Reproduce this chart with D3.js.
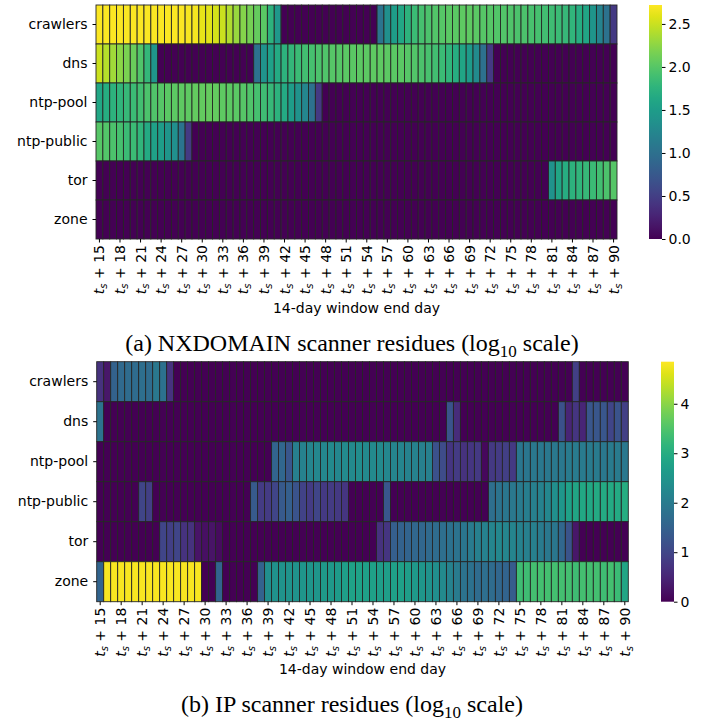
<!DOCTYPE html>
<html><head><meta charset="utf-8">
<script src="https://cdn.jsdelivr.net/npm/d3@7"></script>
<style>body{margin:0;background:#fff}svg{display:block}</style>
</head><body>
<svg id="c" width="704" height="722"></svg>
<script>
const categories = ["crawlers","dns","ntp-pool","ntp-public","tor","zone"];
const days = d3.range(15, 91);
const tickDays = d3.range(15, 91, 3);
const z = n => Array(n).fill(0);

// (a) NXDOMAIN residues, log10
const nxCrawlers = [2.7,2.7,2.7,2.7,2.7,2.7,2.7,2.7,2.7,2.7,2.7,2.7,2.7,2.68,2.68,2.62,2.6,2.55,2.5,2.4,2.3,2.22,2.15,2.08,2.02,1.75,1.45,
  ...z(14),
  1.05,1.35,1.5,1.62,1.75,1.85,1.92,1.95,1.98,2.0,2.02,2.02,2.05,2.05,2.02,2.0,2.0,1.98,1.98,1.97,1.95,1.95,1.93,1.92,1.9,1.88,1.85,1.82,1.78,1.7,1.6,1.42,1.22,1.02,0.45];
const nxDns = [2.5,2.42,2.33,2.25,2.17,2.1,1.97,1.8,1.42, ...z(14),
  1.0,1.4,1.55,1.65,1.75,1.8,1.85,1.9,1.92,1.95,1.97,2.0,2.0,2.02,2.02,2.03,2.03,2.05,2.05,2.03,2.02,2.02,2.0,1.98,1.95,1.93,1.9,1.85,1.78,1.7,1.6,1.48,1.3,1.0,0.45,
  ...z(18)];
const nxNtpPool = [1.62,1.68,1.75,1.78,1.82,1.85,1.9,1.95,1.97,2.0,2.02,2.03,2.05,2.05,2.07,2.07,2.08,2.07,2.05,2.03,2.02,2.0,1.97,1.92,1.88,1.82,1.75,1.65,1.5,1.4,1.25,1.0,0.45, ...z(43)];
const nxNtpPublic = [2.0,1.98,1.95,1.92,1.85,1.85,1.78,1.65,1.55,1.5,1.42,1.35,1.05,0.45, ...z(62)];
const nxTor = [...z(66), 1.4,1.6,1.7,1.75,1.78,1.82,1.85,1.9,1.95,2.0];
const nxZone = z(76);
const nxMax = 2.72;
const nxTicks = [0.0,0.5,1.0,1.5,2.0,2.5];

// (b) IP residues, log10
const ipCrawlers = [0.7,0.3,1.5,1.65,1.7,1.7,1.75,1.7,1.95,1.8,0.7, ...z(57), 0.9, ...z(7)];
const ipDns = [1.85, ...z(49), 1.25,0.6, ...z(14), 1.2,0.5,0.75,0.5,1.3,1.3,1.3,1.0,1.25,0.9];
const ipNtpPool = [...z(25), 1.55,1.6,1.3,2.1,2.15,2.2,2.25,2.25,2.3,2.25,2.3,2.3,2.35,2.3,2.3,2.3,2.25,2.2,2.2,2.15,2.15,2.1,2.1,
  1.2,1.1,0.75,0.85,0.7,0.75,0.8,0.1,0.8,0.85,0.9,0.8,
  1.9,1.9,1.95,1.95,1.95,1.95,1.95,2.0,2.0,2.0,2.0,2.0,1.95,2.0,2.0,1.95];
const ipNtpPublic = [...z(6), 1.0,0.9, ...z(14), 1.35,0.85,0.85,1.0,1.35,1.45,1.25,0.95,0.85,1.0,0.8,0.85,0.8,0.75, ...z(5), 1.3, ...z(14),
  1.75,1.85,1.9,1.95,2.0,2.05,2.1,2.15,2.25,2.4,2.55,2.75,2.85,2.9,2.9,2.95,2.95,2.95,2.95,3.0];
const ipTor = [...z(9), 1.0,0.9,1.0,0.7,0.7,0.25,0.2,0.25,0.15, ...z(22),
  0.7,0.75,1.45,1.5,1.55,1.6,1.6,1.65,1.7,1.75,1.8,1.85,1.9,2.0,2.1,2.15,2.2,2.25,2.2,2.2,2.15,2.1,2.1,2.0,1.95,1.9,1.6,1.25,0.3, ...z(7)];
const ipZone = [1.55, 4.8,4.8,4.8,4.8,4.8,4.8,4.8,4.8,4.8,4.8,4.8,4.8,4.8,4.8, 0,0, 1.55, ...z(5),
  1.5,2.4,2.45,2.5,2.5,2.5,2.55,2.55,2.55,2.6,2.6,2.65,2.7,2.8,2.8,2.75,2.75,2.7,2.7,2.75,2.75,2.7,2.6,2.55,2.45,2.4,2.3,2.15,2.0,1.85,1.8,1.7,1.75,1.7,1.6,1.55,1.4,
  3.35,3.35,3.4,3.4,3.4,3.4,3.4,3.4,3.35,3.4,3.4,3.4,3.35,3.4,3.3,2.85];
const ipMax = 4.85;
const ipTicks = [0,1,2,3,4];

const svg = d3.select("#c");
const FONT = "DejaVu Sans, sans-serif";

function panel(o) {
  const g = svg.append("g");
  const rows = [o.crawlers, o.dns, o.ntpPool, o.ntpPublic, o.tor, o.zone];
  const x = d3.scaleBand().domain(days).range([o.x0, o.x1]);
  const y = d3.scaleBand().domain(categories).range([o.y0, o.y1]);
  const color = d3.scaleSequential(d3.interpolateViridis).domain([0, o.max]);
  const cells = [];
  categories.forEach((c, i) => days.forEach((d, j) => cells.push({c, d, v: rows[i][j]})));
  g.selectAll("rect.cell").data(cells).join("rect")
    .attr("x", d => x(d.d)).attr("y", d => y(d.c))
    .attr("width", x.bandwidth()).attr("height", y.bandwidth())
    .attr("fill", d => color(d.v))
    .attr("stroke", "#262626").attr("stroke-width", 0.9);

  // y axis
  const ya = g.append("g").attr("transform", `translate(${o.x0},0)`)
    .call(d3.axisLeft(y).tickSize(3.5).tickPadding(5));
  ya.select(".domain").remove();
  ya.selectAll("text").attr("font-family", FONT).attr("font-size", 14).attr("fill", "#000");

  // x axis
  const xa = g.append("g").attr("transform", `translate(0,${o.y1})`)
    .call(d3.axisBottom(x).tickValues(tickDays).tickSize(3.5).tickFormat(""));
  xa.select(".domain").remove();
  xa.selectAll(".tick").each(function(d) {
    const t = d3.select(this).append("text")
      .attr("transform", "rotate(-90)")
      .attr("x", -6).attr("y", 0).attr("dy", "0.36em")
      .attr("text-anchor", "end")
      .attr("font-family", FONT).attr("font-size", 14).attr("fill", "#000");
    t.append("tspan").attr("font-style", "italic").text("t");
    t.append("tspan").attr("font-style", "italic").attr("font-size", 10).attr("dy", 3).text("s");
    t.append("tspan").attr("dy", -3).text("\u00a0+\u00a0" + d);
  });

  g.append("text").attr("x", (o.x0 + o.x1) / 2).attr("y", o.labelY)
    .attr("text-anchor", "middle").attr("font-family", FONT).attr("font-size", 14)
    .text("14-day window end day");

  // caption
  const cap = g.append("text").attr("x", 352).attr("y", o.capY)
    .attr("text-anchor", "middle").attr("font-family", "Liberation Serif, Times New Roman, serif").attr("font-size", 24);
  cap.append("tspan").text(o.caption + " (log");
  cap.append("tspan").attr("font-size", 17).attr("dy", 6).text("10");
  cap.append("tspan").attr("dy", -6).text(" scale)");

  // colorbar
  const cb = g.append("g");
  const cy = d3.scaleLinear().domain([0, o.max]).range([o.y1, o.y0]);
  const defs = svg.append("defs");
  const gid = "grad" + o.id;
  const lg = defs.append("linearGradient").attr("id", gid).attr("x1", 0).attr("x2", 0).attr("y1", 1).attr("y2", 0);
  d3.range(0, 1.0001, 0.05).forEach(t => lg.append("stop").attr("offset", t).attr("stop-color", d3.interpolateViridis(t)));
  cb.append("rect").attr("x", o.cbx).attr("y", o.y0).attr("width", 13).attr("height", o.y1 - o.y0).attr("fill", `url(#${gid})`);
  const ca = cb.append("g").attr("transform", `translate(${o.cbx + 13},0)`)
    .call(d3.axisRight(cy).tickValues(o.ticks).tickSize(3.5).tickPadding(3).tickFormat(o.fmt));
  ca.select(".domain").remove();
  ca.selectAll("text").attr("font-family", FONT).attr("font-size", 14).attr("fill", "#000");
}

panel({id: "a", crawlers: nxCrawlers, dns: nxDns, ntpPool: nxNtpPool, ntpPublic: nxNtpPublic, tor: nxTor, zone: nxZone,
  x0: 96, x1: 617, y0: 5, y1: 239, max: nxMax, ticks: nxTicks, fmt: d3.format(".1f"), cbx: 649,
  labelY: 313, capY: 351, caption: "(a) NXDOMAIN scanner residues"});
panel({id: "b", crawlers: ipCrawlers, dns: ipDns, ntpPool: ipNtpPool, ntpPublic: ipNtpPublic, tor: ipTor, zone: ipZone,
  x0: 96.7, x1: 628.3, y0: 361.7, y1: 601.7, max: ipMax, ticks: ipTicks, fmt: d3.format("d"), cbx: 661,
  labelY: 674, capY: 712, caption: "(b) IP scanner residues"});
</script>
</body></html>
